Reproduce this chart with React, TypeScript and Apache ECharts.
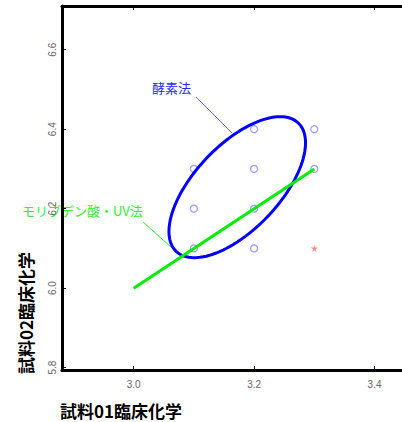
import React, { useEffect, useRef } from "react";
import * as echarts from "echarts";

// Observed blue sample points (試料01 vs 試料02)
const sampleX = [3.2, 3.3, 3.1, 3.2, 3.3, 3.1, 3.2, 3.1, 3.2];
const sampleY = [6.4, 6.4, 6.3, 6.3, 6.3, 6.2, 6.2, 6.1, 6.1];
// Outlier (red star)
const outlierX = [3.3];
const outlierY = [6.1];
// Regression line (モリブデン酸・UV法)
const lineX = [3.0, 3.3];
const lineY = [6.0, 6.3];
// Ellipse (酵素法): centre, standard deviations, correlation
const ellipseCenter = [3.172, 6.254];
const ellipseSd = [0.1134, 0.1774];
const ellipseCorr = 0.629;
// Axes
const xTicks = [3.0, 3.2, 3.4];
const yTicks = [5.8, 6.0, 6.2, 6.4, 6.6];
const xRange = [2.881, 3.4456];
const yRange = [5.794, 6.71];
const xName = "試料01臨床化学";
const yName = "試料02臨床化学";
const enzymeLabel = "酵素法";
const uvLabel = "モリブデン酸・UV法";

export default function App() {
  const ref = useRef<HTMLDivElement>(null);
  useEffect(() => {
    if (!ref.current) return;
    const chart = echarts.init(ref.current, null, { renderer: "svg" });
    const axisLineStyle = { color: "#000", width: 3 };
    const labelStyle = { color: "#666", fontSize: 10, fontFamily: "Arial, Liberation Sans, sans-serif" };
    const starPath = "path://M50,0 L61,35 L98,35 L68,57 L79,91 L50,70 L21,91 L32,57 L2,35 L39,35 Z";
    chart.setOption({
      animation: false,
      grid: { left: 62, top: 6, width: 340, height: 364, outerBoundsMode: "none" },
      xAxis: [
        {
          type: "value",
          min: xRange[0],
          max: xRange[1],
          position: "bottom",
          axisLine: { lineStyle: axisLineStyle },
          axisTick: { inside: true, length: 4, customValues: xTicks, lineStyle: { color: "#000", width: 1 } },
          axisLabel: { customValues: xTicks, formatter: (v: number) => v.toFixed(1), margin: 9, ...labelStyle },
          splitLine: { show: false },
        },
        {
          type: "value",
          min: xRange[0],
          max: xRange[1],
          position: "top",
          axisLine: { show: true, lineStyle: axisLineStyle },
          axisTick: { inside: true, length: 4, customValues: xTicks, lineStyle: { color: "#000", width: 1 } },
          axisLabel: { show: false },
          splitLine: { show: false },
        },
      ],
      yAxis: {
        type: "value",
        min: yRange[0],
        max: yRange[1],
        axisLine: { show: true, lineStyle: axisLineStyle },
        axisTick: { show: true, inside: true, length: 4, customValues: yTicks, lineStyle: { color: "#000", width: 1 } },
        axisLabel: { customValues: yTicks, rotate: 90, formatter: (v: number) => v.toFixed(1), margin: 5, ...labelStyle },
        splitLine: { show: false },
      },
      series: [
        {
          type: "custom",
          clip: false,
          data: [[ellipseCenter[0], ellipseCenter[1]]],
          encode: { x: 0, y: 1 },
          renderItem: (params: any, api: any) => {
            const cx = api.value(0);
            const cy = api.value(1);
            const pts: number[][] = [];
            const k = Math.sqrt(1 - ellipseCorr * ellipseCorr);
            for (let d = 0; d < 360; d += 3) {
              const t = (d * Math.PI) / 180;
              const x = cx + ellipseSd[0] * Math.cos(t);
              const y = cy + ellipseSd[1] * (ellipseCorr * Math.cos(t) + k * Math.sin(t));
              pts.push(api.coord([x, y]));
            }
            return {
              type: "polygon",
              shape: { points: pts },
              style: { fill: "none", stroke: "#0000ff", lineWidth: 3 },
            };
          },
          z: 3,
        },
        {
          type: "line",
          data: lineX.map((x, i) => [x, lineY[i]]),
          symbol: "none",
          lineStyle: { color: "#00ee00", width: 3 },
          z: 4,
        },
        {
          type: "scatter",
          data: sampleX.map((x, i) => [x, sampleY[i]]),
          symbol: "circle",
          symbolSize: 7,
          itemStyle: { color: "#fff", borderColor: "#8080ff", borderWidth: 1.2 },
          z: 2,
        },
        {
          type: "scatter",
          data: outlierX.map((x, i) => [x, outlierY[i]]),
          symbol: starPath,
          symbolSize: 7,
          itemStyle: { color: "#ff7070" },
          z: 2,
        },
      ],
      graphic: [
        {
          type: "text",
          left: 152,
          top: 81,
          style: { text: enzymeLabel, fill: "#2a2aff", fontSize: 13, fontFamily: "Noto Sans CJK JP" },
        },
        {
          type: "line",
          shape: { x1: 196, y1: 97, x2: 232, y2: 133 },
          style: { stroke: "#6a6aff", lineWidth: 1 },
        },
        {
          type: "text",
          left: 22,
          top: 204,
          style: { text: uvLabel, fill: "#33ee33", fontSize: 13, fontFamily: "Noto Sans CJK JP" },
        },
        {
          type: "line",
          shape: { x1: 143, y1: 222, x2: 181, y2: 256 },
          style: { stroke: "#33ee33", lineWidth: 1 },
        },
        {
          type: "text",
          x: 121,
          y: 410,
          style: {
            text: xName,
            fill: "#000",
            fontSize: 17,
            fontWeight: "bold",
            fontFamily: "Noto Sans CJK JP",
            align: "center",
            verticalAlign: "middle",
          },
        },
        {
          type: "text",
          x: 25,
          y: 313,
          rotation: Math.PI / 2,
          style: {
            text: yName,
            fill: "#000",
            fontSize: 17,
            fontWeight: "bold",
            fontFamily: "Noto Sans CJK JP",
            align: "center",
            verticalAlign: "middle",
          },
        },
      ],
    });
    return () => chart.dispose();
  }, []);
  return (
    <div
      ref={ref}
      style={{ position: "absolute", left: 0, top: 0, width: 402, height: 422, background: "#fff" }}
    />
  );
}
